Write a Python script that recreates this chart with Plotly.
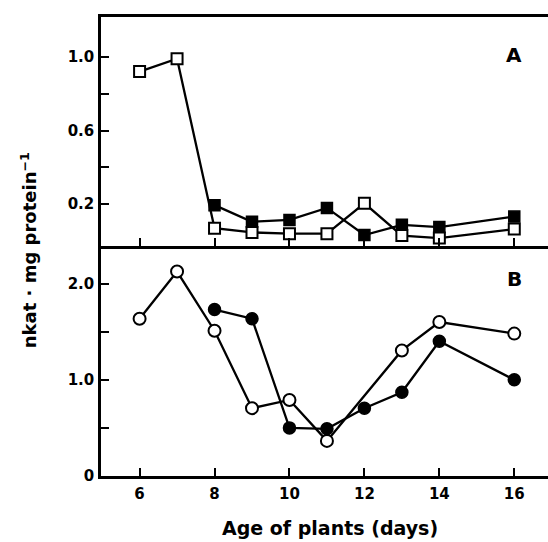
import plotly.graph_objects as go

# Panel A (squares)
days_a = [6, 7, 8, 9, 10, 11, 12, 13, 14, 16]
open_sq = [0.92, 0.99, 0.07, 0.047, 0.04, 0.04, 0.205, 0.03, 0.016, 0.065]
days_a_filled = [8, 9, 10, 11, 12, 13, 14, 16]
filled_sq = [0.195, 0.105, 0.115, 0.18, 0.033, 0.088, 0.076, 0.133]

# Panel B (circles)
days_b_open = [6, 7, 8, 9, 10, 11, 13, 14, 16]
open_ci = [1.635, 2.125, 1.51, 0.705, 0.79, 0.365, 1.305, 1.60, 1.48]
days_b_filled = [8, 9, 10, 11, 12, 13, 14, 16]
filled_ci = [1.73, 1.635, 0.50, 0.49, 0.705, 0.87, 1.40, 1.0]

x_ticks = [6, 8, 10, 12, 14, 16]
ya_ticks = [0.2, 0.4, 0.6, 0.8, 1.0]
ya_text = ["0.2", "", "0.6", "", "1.0"]
yb_ticks = [0, 0.5, 1.0, 1.5, 2.0]
yb_text = ["0", "", "1.0", "", "2.0"]

FONT = "DejaVu Sans"
line = dict(color="black", width=2.3)

fig = go.Figure()
fig.add_trace(go.Scatter(x=days_a_filled, y=filled_sq, mode="lines+markers", line=line,
                         marker=dict(symbol="square", size=11, color="black",
                                     line=dict(color="black", width=1.5)),
                         xaxis="x", yaxis="y", showlegend=False))
fig.add_trace(go.Scatter(x=days_a, y=open_sq, mode="lines+markers", line=line,
                         marker=dict(symbol="square", size=11, color="white",
                                     line=dict(color="black", width=2)),
                         xaxis="x", yaxis="y", showlegend=False))
fig.add_trace(go.Scatter(x=days_b_filled, y=filled_ci, mode="lines+markers", line=line,
                         marker=dict(symbol="circle", size=12, color="black",
                                     line=dict(color="black", width=1.5)),
                         xaxis="x2", yaxis="y2", showlegend=False))
fig.add_trace(go.Scatter(x=days_b_open, y=open_ci, mode="lines+markers", line=line,
                         marker=dict(symbol="circle", size=12, color="white",
                                     line=dict(color="black", width=2)),
                         xaxis="x2", yaxis="y2", showlegend=False))

tickfont = dict(family=FONT, size=15, color="black", weight="bold")
xcommon = dict(range=[4.97, 16.9], tickvals=x_ticks, ticks="inside", ticklen=8, tickwidth=2,
               tickcolor="black", showline=True, linecolor="black", linewidth=2.5,
               showgrid=False, zeroline=False, tickfont=tickfont, automargin=False)
ycommon = dict(ticks="inside", ticklen=8, tickwidth=2, tickcolor="black", showline=True,
               linecolor="black", linewidth=2.5, showgrid=False, zeroline=False,
               tickfont=tickfont, ticklabelstandoff=1, automargin=False)

fig.update_layout(
    width=548, height=542,
    margin=dict(l=101, r=0, t=17, b=66),
    paper_bgcolor="white", plot_bgcolor="white",
    xaxis=dict(**xcommon, domain=[0, 1], anchor="y", showticklabels=False, mirror=True),
    yaxis=dict(**ycommon, domain=[0.501, 1], anchor="x", range=[-0.027, 1.216],
               tickvals=ya_ticks, ticktext=ya_text),
    xaxis2=dict(**xcommon, domain=[0, 1], anchor="y2", ticklabelstandoff=2),
    yaxis2=dict(**ycommon, domain=[0, 0.501], anchor="x2", range=[0, 2.39],
                tickvals=yb_ticks, ticktext=yb_text),
    annotations=[
        dict(text="A", x=16.0, y=1.01, xref="x", yref="y", showarrow=False,
             font=dict(family=FONT, size=20, color="black", weight="bold")),
        dict(text="B", x=16.0, y=2.05, xref="x2", yref="y2", showarrow=False,
             font=dict(family=FONT, size=20, color="black", weight="bold")),
        dict(text="nkat · mg protein<sup>−1</sup>", x=-0.161, y=0.492, xref="paper",
             yref="paper", textangle=-90, showarrow=False, xanchor="center", yanchor="middle",
             font=dict(family=FONT, size=18, color="black", weight="bold")),
        dict(text="Age of plants (days)", x=0.512, y=-0.113, xref="paper", yref="paper",
             showarrow=False, xanchor="center", yanchor="middle",
             font=dict(family=FONT, size=19, color="black", weight="bold")),
    ],
)

fig.write_html("out.html", config={"displayModeBar": False},
               post_script="document.body.style.margin='0';document.body.style.overflow='hidden';")
